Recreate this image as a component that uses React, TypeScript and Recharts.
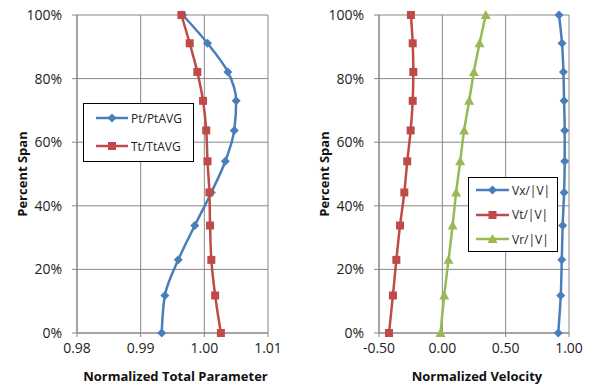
import React from "react";
import {
  LineChart,
  Line,
  XAxis,
  YAxis,
  CartesianGrid,
  Label,
} from "recharts";

// Radial stations, percent of span
const span = [0, 11.8, 23, 33.8, 44.2, 54, 63.7, 73, 82.1, 91.1, 100];

// Total pressure / temperature normalized by their averages
const ptRatio = [0.9933, 0.9938, 0.9959, 0.9985, 1.0011, 1.0033, 1.0047, 1.005, 1.0037, 1.0005, 0.9966];
const ttRatio = [1.0026, 1.0017, 1.0011, 1.0009, 1.0008, 1.0005, 1.0003, 0.9998, 0.9989, 0.9977, 0.9964];

// Velocity components normalized by |V|
const vxRatio = [0.915, 0.935, 0.943, 0.95, 0.961, 0.966, 0.966, 0.961, 0.956, 0.945, 0.921];
const vtRatio = [-0.421, -0.39, -0.363, -0.334, -0.3, -0.277, -0.25, -0.234, -0.229, -0.234, -0.248];
const vrRatio = [-0.014, 0.015, 0.049, 0.081, 0.109, 0.141, 0.172, 0.212, 0.249, 0.294, 0.343];

const spanTicks = [0, 20, 40, 60, 80, 100];
const totalTicks = [0.98, 0.99, 1.0, 1.01];
const velocityTicks = [-0.5, 0, 0.5, 1.0];

const totalData = span.map((s, i) => ({ span: s, pt: ptRatio[i], tt: ttRatio[i] }));
const velocityData = span.map((s, i) => ({
  span: s,
  vx: vxRatio[i],
  vt: vtRatio[i],
  vr: vrRatio[i],
}));

const BLUE = "#4A7EBB";
const RED = "#BE4B48";
const GREEN = "#98B954";
const GRID = "#878787";
const FONT = "'Open Sans', sans-serif";

type Marker = "diamond" | "square" | "triangle";

function markerShape(kind: Marker, cx: number, cy: number, color: string, key?: any) {
  if (kind === "diamond") {
    const r = 4.5;
    return (
      <polygon
        key={key}
        points={`${cx},${cy - r} ${cx + r},${cy} ${cx},${cy + r} ${cx - r},${cy}`}
        fill={color}
      />
    );
  }
  if (kind === "square") {
    const h = 4;
    return <rect key={key} x={cx - h} y={cy - h} width={h * 2} height={h * 2} fill={color} />;
  }
  const t = 5;
  return (
    <polygon
      key={key}
      points={`${cx},${cy - t} ${cx + t},${cy + t * 0.8} ${cx - t},${cy + t * 0.8}`}
      fill={color}
    />
  );
}

const makeDot = (kind: Marker, color: string) => (props: any) =>
  markerShape(kind, props.cx, props.cy, color, props.key ?? `${props.index}`);

interface LegendItem {
  label: string;
  color: string;
  marker: Marker;
}

interface LegendBoxProps {
  items: LegendItem[];
  rowGap: number;
  left: number;
  top: number;
  width: number;
  height: number;
  lineStart: number;
  lineEnd: number;
}

// Excel-style boxed legend laid over the plot area
function LegendBox({ items, rowGap, left, top, width, height, lineStart, lineEnd }: LegendBoxProps) {
  const mid = (lineStart + lineEnd) / 2;
  return (
    <div
      style={{
        position: "absolute",
        left,
        top,
        width,
        height,
        border: "1px solid #000",
        background: "#fff",
        boxSizing: "border-box",
      }}
    >
      {items.map((it) => (
        <div
          key={it.label}
          style={{ display: "flex", alignItems: "center", height: rowGap, fontFamily: FONT, fontSize: 12, color: "#222" }}
        >
          <svg width={lineEnd + 2} height={12} style={{ flex: "none" }}>
            <line x1={lineStart} y1={6} x2={lineEnd} y2={6} stroke={it.color} strokeWidth={2.5} />
            {markerShape(it.marker, mid, 6, it.color)}
          </svg>
          <span style={{ marginLeft: 1 }}>{it.label}</span>
        </div>
      ))}
    </div>
  );
}

const tickStyle = { fill: "#222", fontSize: 14, fontFamily: FONT };

function YTitle({ viewBox }: any) {
  const cy = viewBox.y + viewBox.height / 2;
  return (
    <text
      x={22}
      y={cy}
      transform={`rotate(-90, 22, ${cy})`}
      textAnchor="middle"
      dominantBaseline="central"
      fontFamily={FONT}
      fontWeight="bold"
      fontSize={13}
      fill="#111"
    >
      Percent Span
    </text>
  );
}

function XTitle({ viewBox, value }: any) {
  return (
    <text
      x={viewBox.x + viewBox.width / 2 + 3}
      y={viewBox.y + 43}
      textAnchor="middle"
      dominantBaseline="central"
      fontFamily={FONT}
      fontWeight="bold"
      fontSize={13}
      fill="#111"
    >
      {value}
    </text>
  );
}

function SpanAxis() {
  return (
    <YAxis
      type="number"
      dataKey="span"
      domain={[0, 100]}
      ticks={spanTicks}
      tickFormatter={(v: number) => `${v}%`}
      tick={tickStyle}
      width={60}
      stroke={GRID}
      tickSize={5}
      tickMargin={10}
      reversed
    >
      <Label content={<YTitle />} />
    </YAxis>
  );
}

export default function App() {
  return (
    <div style={{ position: "absolute", left: 0, top: 0, width: 593, height: 385, background: "#fff" }}>
      <div style={{ position: "absolute", left: 0, top: 0 }}>
        <LineChart
          width={300}
          height={385}
          data={totalData}
          layout="vertical"
          margin={{ top: 15, right: 32, bottom: 0, left: 17 }}
        >
          <CartesianGrid stroke={GRID} />
          <XAxis
            type="number"
            domain={[0.98, 1.01]}
            ticks={totalTicks}
            tickFormatter={(v: number) => v.toFixed(2)}
            tick={tickStyle}
            height={52}
            stroke={GRID}
            tickSize={4}
            tickMargin={6}
            allowDataOverflow
          >
            <Label value="Normalized Total Parameter" content={<XTitle />} />
          </XAxis>
          {SpanAxis()}
          <Line
            dataKey="pt"
            type="monotone"
            stroke={BLUE}
            strokeWidth={2.5}
            dot={makeDot("diamond", BLUE)}
            isAnimationActive={false}
          />
          <Line
            dataKey="tt"
            type="monotone"
            stroke={RED}
            strokeWidth={2.5}
            dot={makeDot("square", RED)}
            isAnimationActive={false}
          />
        </LineChart>
        <LegendBox
          left={83}
          top={103}
          width={111}
          height={59}
          rowGap={28}
          lineStart={12}
          lineEnd={44}
          items={[
            { label: "Pt/PtAVG", color: BLUE, marker: "diamond" },
            { label: "Tt/TtAVG", color: RED, marker: "square" },
          ]}
        />
      </div>
      <div style={{ position: "absolute", left: 302, top: 0 }}>
        <LineChart
          width={291}
          height={385}
          data={velocityData}
          layout="vertical"
          margin={{ top: 15, right: 24, bottom: 0, left: 17 }}
        >
          <CartesianGrid stroke={GRID} />
          <XAxis
            type="number"
            domain={[-0.5, 1.0]}
            ticks={velocityTicks}
            tickFormatter={(v: number) => v.toFixed(2)}
            tick={tickStyle}
            height={52}
            stroke={GRID}
            tickSize={4}
            tickMargin={6}
            allowDataOverflow
          >
            <Label value="Normalized Velocity" content={<XTitle />} />
          </XAxis>
          {SpanAxis()}
          <Line
            dataKey="vx"
            type="monotone"
            stroke={BLUE}
            strokeWidth={2.5}
            dot={makeDot("diamond", BLUE)}
            isAnimationActive={false}
          />
          <Line
            dataKey="vt"
            type="monotone"
            stroke={RED}
            strokeWidth={2.5}
            dot={makeDot("square", RED)}
            isAnimationActive={false}
          />
          <Line
            dataKey="vr"
            type="monotone"
            stroke={GREEN}
            strokeWidth={2.5}
            dot={makeDot("triangle", GREEN)}
            isAnimationActive={false}
          />
        </LineChart>
        <LegendBox
          left={166}
          top={177}
          width={90}
          height={75}
          rowGap={24.5}
          lineStart={7}
          lineEnd={40}
          items={[
            { label: "Vx/|V|", color: BLUE, marker: "diamond" },
            { label: "Vt/|V|", color: RED, marker: "square" },
            { label: "Vr/|V|", color: GREEN, marker: "triangle" },
          ]}
        />
      </div>
    </div>
  );
}
